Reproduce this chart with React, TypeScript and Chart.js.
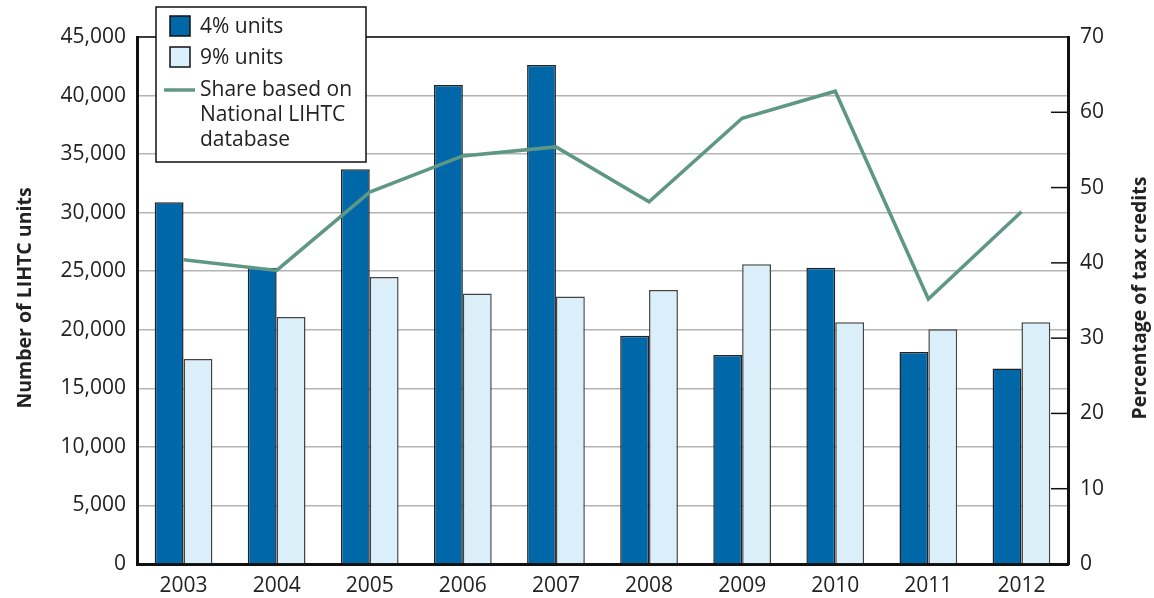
import React, { useEffect, useRef } from "react";
import { Chart, registerables } from "chart.js";

Chart.register(...registerables);

const years = ["2003", "2004", "2005", "2006", "2007", "2008", "2009", "2010", "2011", "2012"];
const units4 = [30900, 25300, 33700, 40900, 42600, 19500, 17850, 25300, 18100, 16700];
const units9 = [17500, 21100, 24500, 23100, 22850, 23400, 25600, 20650, 20050, 20650];
const share = [40.4, 39.0, 49.4, 54.2, 55.4, 48.1, 59.2, 62.8, 35.2, 46.8];
const rightInnerTicks = [10, 20, 30, 40, 50, 60];
const legendLabels4 = "4% units";
const legendLabels9 = "9% units";
const legendLineLines = ["Share based on", "National LIHTC", "database"];
const leftTitle = "Number of LIHTC units";
const rightTitle = "Percentage of tax credits";

const FONT = '"Open Sans", "Noto Sans", sans-serif';
const C4 = "#0068a8";
const C9 = "#dbeffa";
const CLINE = "#5e9786";

const overlayPlugin = {
  id: "overlay",
  afterDraw(chart: any) {
    const ctx = chart.ctx;
    const { left, right, top } = chart.chartArea;
    ctx.save();
    // top border
    ctx.strokeStyle = "#111";
    ctx.lineWidth = 1.5;
    ctx.beginPath();
    ctx.moveTo(left, top);
    ctx.lineTo(right, top);
    ctx.stroke();
    // right inner ticks
    const y1 = chart.scales.y1;
    ctx.lineWidth = 1.5;
    rightInnerTicks.forEach((v) => {
      const y = y1.getPixelForValue(v);
      ctx.beginPath();
      ctx.moveTo(right - 17, y);
      ctx.lineTo(right, y);
      ctx.stroke();
    });
    // axis titles
    ctx.fillStyle = "#222";
    ctx.font = `bold 19.5px ${FONT}`;
    ctx.textAlign = "center";
    ctx.textBaseline = "middle";
    ctx.save();
    ctx.translate(25, 298);
    ctx.rotate(-Math.PI / 2);
    ctx.fillText(leftTitle, 0, 0);
    ctx.restore();
    ctx.save();
    ctx.translate(1140, 298);
    ctx.rotate(-Math.PI / 2);
    ctx.fillText(rightTitle, 0, 0);
    ctx.restore();
    // legend
    ctx.fillStyle = "#fff";
    ctx.fillRect(156, 7, 210, 155);
    ctx.strokeStyle = "#111";
    ctx.lineWidth = 1.5;
    ctx.strokeRect(156, 7, 210, 155);
    ctx.fillStyle = C4;
    ctx.fillRect(170, 16, 20, 20);
    ctx.strokeRect(170, 16, 20, 20);
    ctx.fillStyle = C9;
    ctx.fillRect(170, 47, 20, 20);
    ctx.strokeRect(170, 47, 20, 20);
    ctx.strokeStyle = CLINE;
    ctx.lineWidth = 3.5;
    ctx.beginPath();
    ctx.moveTo(164, 90);
    ctx.lineTo(195, 90);
    ctx.stroke();
    ctx.fillStyle = "#222";
    ctx.font = `21px ${FONT}`;
    ctx.textAlign = "left";
    ctx.textBaseline = "middle";
    ctx.fillText(legendLabels4, 200, 27);
    ctx.fillText(legendLabels9, 200, 58);
    legendLineLines.forEach((t, i) => ctx.fillText(t, 200, 90 + i * 25));
    ctx.restore();
  },
};

export default function App() {
  const ref = useRef<HTMLCanvasElement>(null);
  useEffect(() => {
    const chart = new Chart(ref.current!, {
      type: "bar",
      data: {
        labels: years,
        datasets: [
          {
            type: "line",
            label: "Share based on National LIHTC database",
            data: share,
            yAxisID: "y1",
            borderColor: CLINE,
            borderWidth: 3.5,
            pointRadius: 0,
            tension: 0,
            order: 0,
          } as any,
          {
            label: "4% units",
            data: units4,
            yAxisID: "y",
            backgroundColor: C4,
            borderColor: "#222",
            borderWidth: 1.5,
            order: 1,
          },
          {
            label: "9% units",
            data: units9,
            yAxisID: "y",
            backgroundColor: C9,
            borderColor: "#444",
            borderWidth: 1.5,
            order: 2,
          },
        ],
      },
      options: {
        responsive: false,
        animation: false,
        layout: { padding: { left: 0, right: 0, top: 37, bottom: 0 } },
        datasets: { bar: { categoryPercentage: 0.62, barPercentage: 1 } },
        plugins: { legend: { display: false }, tooltip: { enabled: false } },
        scales: {
          x: {
            grid: { display: false, drawTicks: false },
            border: { display: true, width: 3, color: "#111" },
            ticks: { color: "#222", font: { family: FONT, size: 21 }, padding: 9 },
            afterFit: (s: any) => {
              s.height = 34;
            },
          },
          y: {
            position: "left",
            min: 0,
            max: 45000,
            ticks: {
              stepSize: 5000,
              color: "#222",
              font: { family: FONT, size: 21 },
              padding: 11,
              callback: (v: any) => Number(v).toLocaleString("en-US"),
            },
            grid: { color: "#b4b4b4", lineWidth: 1.5, drawTicks: false },
            border: { width: 3, color: "#111" },
            afterFit: (s: any) => {
              s.width = 137;
            },
          },
          y1: {
            position: "right",
            min: 0,
            max: 70,
            ticks: {
              stepSize: 10,
              color: "#222",
              font: { family: FONT, size: 21 },
              padding: 12,
            },
            grid: { drawOnChartArea: false, drawTicks: false },
            border: { width: 3, color: "#111" },
            afterFit: (s: any) => {
              s.width = 86;
            },
          },
        },
      },
      plugins: [overlayPlugin],
    });
    return () => chart.destroy();
  }, []);
  return (
    <div style={{ position: "fixed", left: 0, top: 0, width: 1154, height: 598, background: "#fff" }}>
      <canvas ref={ref} width={1154} height={598} style={{ width: 1154, height: 598 }} />
    </div>
  );
}
